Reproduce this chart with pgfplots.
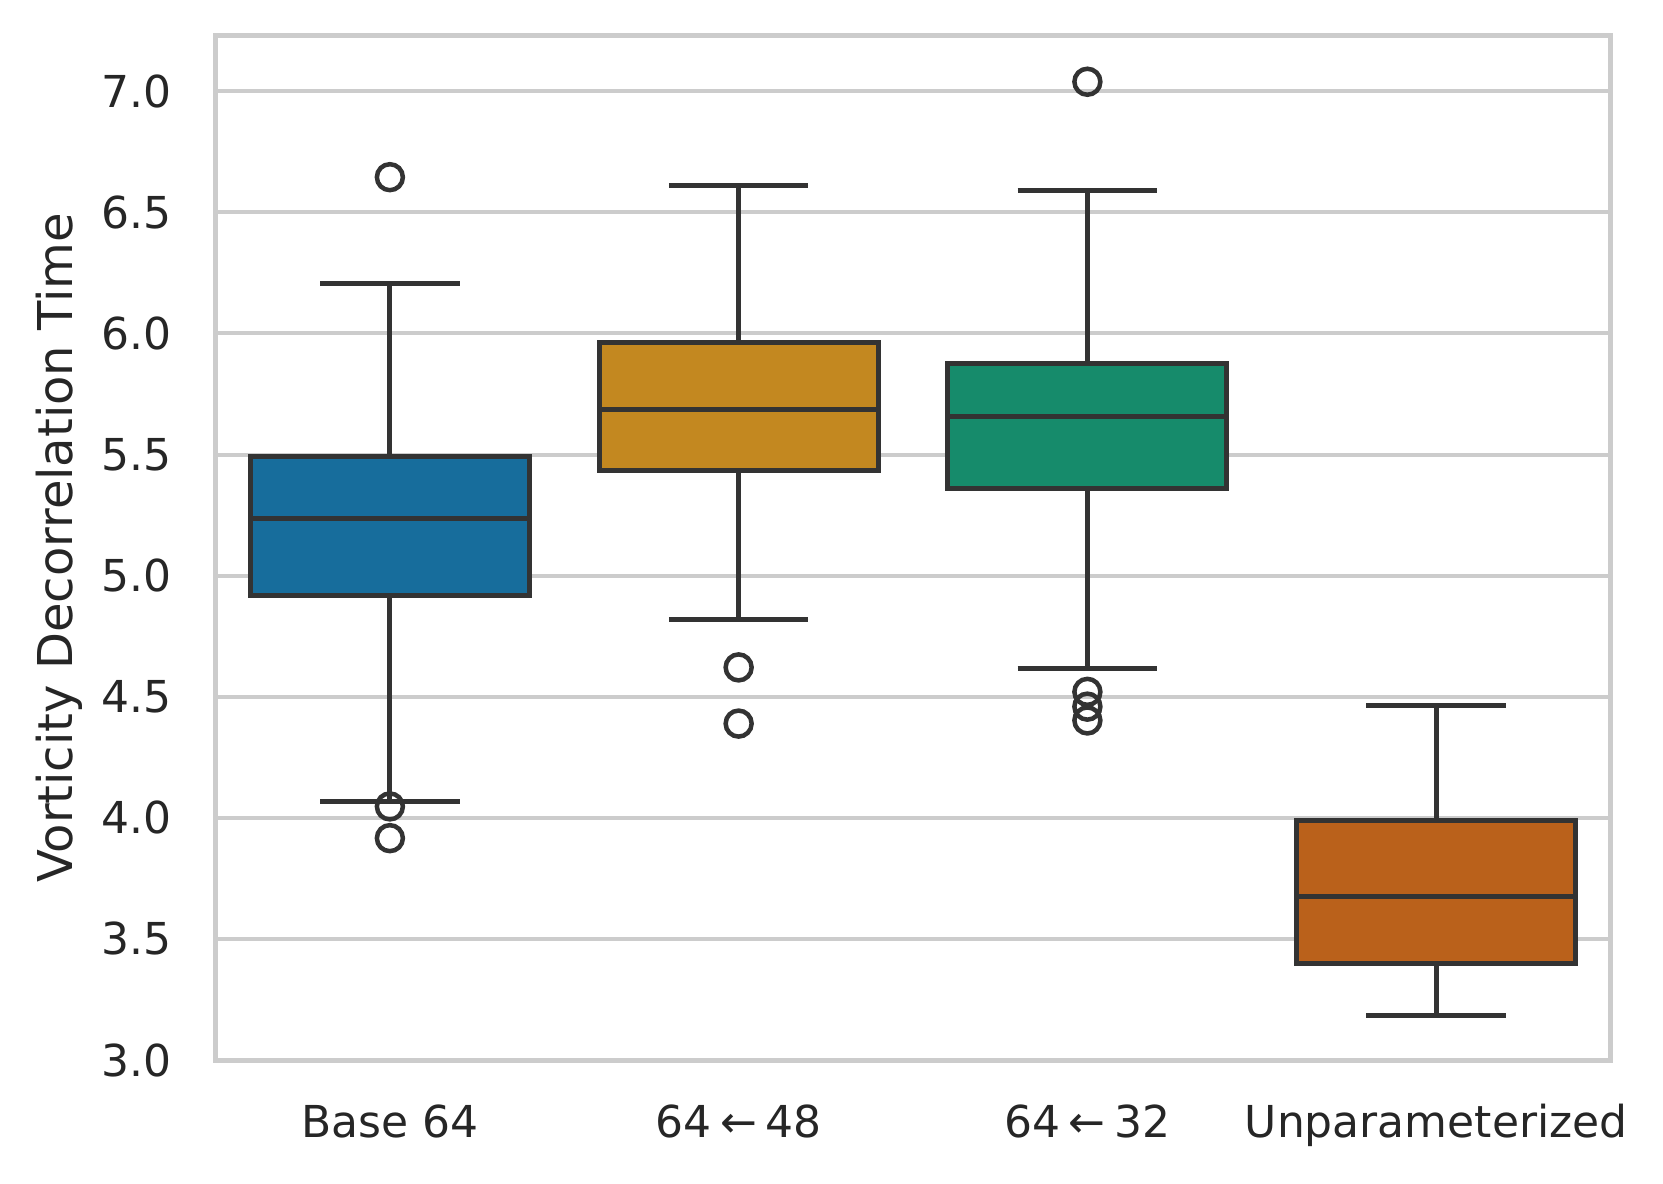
\documentclass[border=0pt]{standalone}
\usepackage{fontspec}
\setmainfont{DejaVu Sans}
\usepackage{pgfplots}
\pgfplotsset{compat=1.18}
\usepgfplotslibrary{statistics}
\newdimen\px \px=0.24bp
\definecolor{c0}{HTML}{176D9C}
\definecolor{c1}{HTML}{C38820}
\definecolor{c2}{HTML}{168B6B}
\definecolor{c3}{HTML}{BA611B}
\definecolor{edge}{HTML}{333333}
\definecolor{gridc}{HTML}{CCCCCC}
\definecolor{txt}{HTML}{262626}
\begin{document}
\begin{tikzpicture}
\begin{axis}[name=ax, scale only axis, width=1395\px, height=1024.5\px,
  xmin=-0.5, xmax=3.5, ymin=3, ymax=7.23,
  xtick={0,1,2,3},
  xticklabels={Base 64, 64\hspace{0.2em}←\hspace{0.2em}48, 64\hspace{0.2em}←\hspace{0.2em}32, Unparameterized},
  ytick={3,3.5,4,4.5,5,5.5,6,6.5,7},
  major tick length=0pt, tick style={draw=none},
  ymajorgrids, grid style={draw=gridc, line width=4\px},
  axis line style={draw=gridc, line width=5\px},
  tick label style={font=\fontsize{10.56bp}{12bp}\selectfont, text=txt},
  yticklabel style={anchor=east, inner sep=0pt, xshift=-43\px,
    /pgf/number format/fixed, /pgf/number format/fixed zerofill,
    /pgf/number format/precision=1, /pgf/number format/assume math mode=true},
  xticklabel style={anchor=base, inner sep=0pt, yshift=-77\px},
  boxplot/draw direction=y,
  every axis plot/.append style={draw=edge, line width=5\px, mark=o, mark size=13\px,
    mark options={draw=edge, fill=none, line width=4.5\px, solid}},
]
\addplot[fill=c0, boxplot prepared={draw position=0, lower whisker=4.069, lower quartile=4.919,
  median=5.236, upper quartile=5.493, upper whisker=6.207, box extend=0.8, whisker extend=0.4}]
  table[row sep=\\, y index=0] {data\\ 6.645\\ 4.047\\ 3.916\\};
\addplot[fill=c1, boxplot prepared={draw position=1, lower whisker=4.818, lower quartile=5.432,
  median=5.686, upper quartile=5.962, upper whisker=6.610, box extend=0.8, whisker extend=0.4}]
  table[row sep=\\, y index=0] {data\\ 4.621\\ 4.389\\};
\addplot[fill=c2, boxplot prepared={draw position=2, lower whisker=4.617, lower quartile=5.361,
  median=5.655, upper quartile=5.874, upper whisker=6.588, box extend=0.8, whisker extend=0.4}]
  table[row sep=\\, y index=0] {data\\ 7.039\\ 4.520\\ 4.459\\ 4.402\\};
\addplot[fill=c3, boxplot prepared={draw position=3, lower whisker=3.184, lower quartile=3.399,
  median=3.675, upper quartile=3.990, upper whisker=4.463, box extend=0.8, whisker extend=0.4}]
  table[row sep=\\, y index=0] {data\\};
\end{axis}
\node[rotate=90, anchor=base, inner sep=0pt, font=\fontsize{11.52bp}{13bp}\selectfont, text=txt]
  at ([xshift=-143\px]ax.west) {Vorticity Decorrelation Time};
\path ([xshift=-215.5\px,yshift=-123\px]ax.south west) rectangle ([xshift=52.5\px,yshift=35.5\px]ax.north east);
\end{tikzpicture}
\end{document}
